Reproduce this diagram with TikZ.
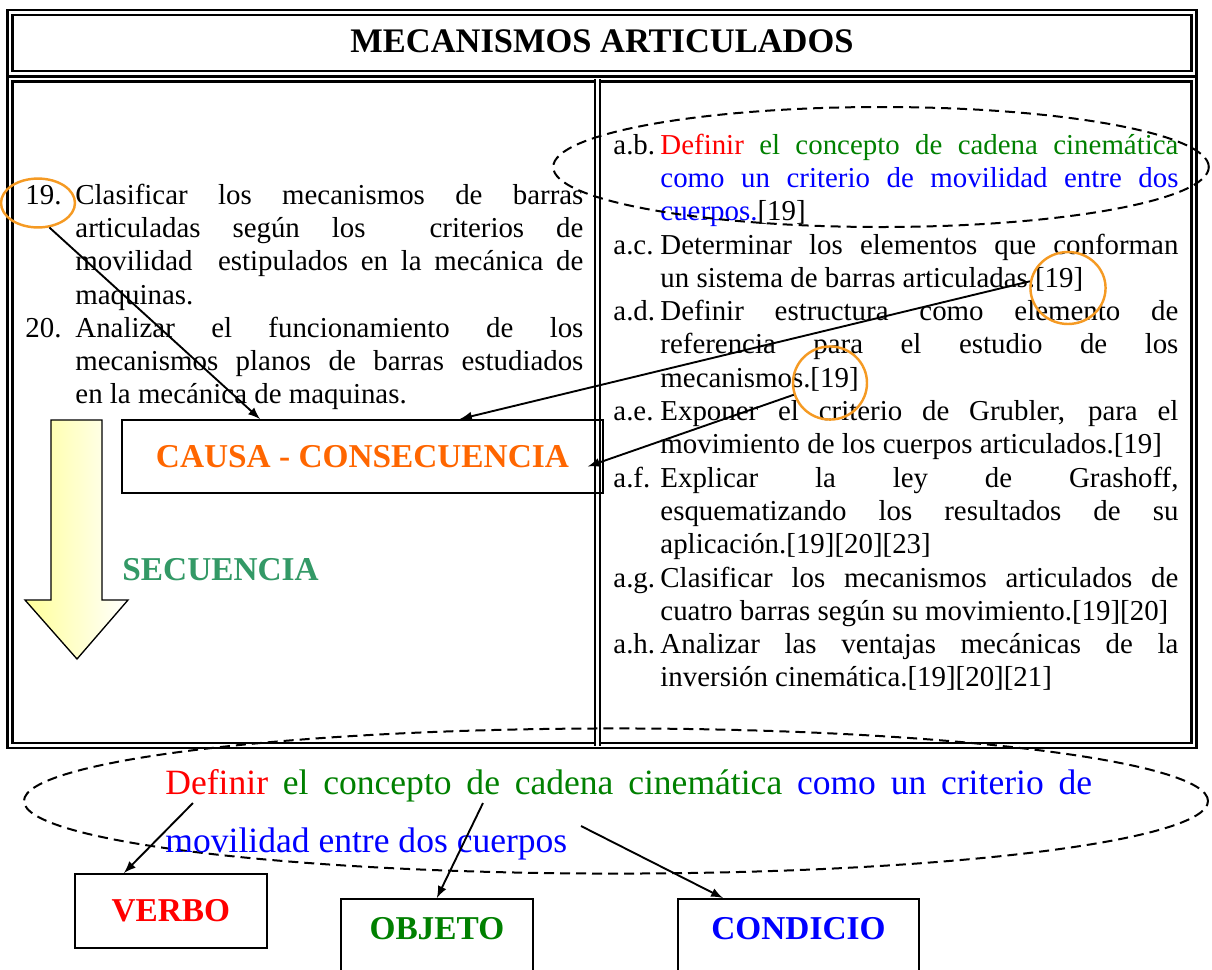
\documentclass[tikz,border=0pt]{standalone}
\usepackage{fontspec}
\setmainfont{Liberation Serif}
\usetikzlibrary{shapes.geometric,calc}

\definecolor{vred}{HTML}{FF0000}
\definecolor{vgreen}{HTML}{008000}
\definecolor{vblue}{HTML}{0000FF}
\definecolor{causaorange}{HTML}{FF6600}
\definecolor{secgreen}{HTML}{339966}
\definecolor{hlorange}{HTML}{F59A23}
\definecolor{arrowyellow}{HTML}{FFFF99}

\tikzset{
  frame/.style={double, line width=1.1pt, double distance=1pt},
  body/.style={font=\fontsize{13}{15}\selectfont},
  lbl/.style={body, anchor=base west, inner sep=0pt},
  txt/.style={body, anchor=base west, inner sep=0pt, align=justify},
  hl/.style={ellipse, draw=hlorange, line width=1.1pt, inner sep=0pt},
  dashring/.style={ellipse, draw, line width=0.9pt, dash pattern=on 4.5pt off 2.7pt, inner sep=0pt},
  wbox/.style={draw, line width=0.8pt, font=\fontsize{15}{18}\selectfont\bfseries},
  bigword/.style={anchor=base west, inner sep=0pt, font=\fontsize{15}{18}\selectfont\bfseries},
  link/.style={->, line width=0.85pt},
}

\begin{document}
\begin{tikzpicture}[x=0.45pt, y=-0.45pt, >=latex]
\clip (0,0) rectangle (1212,969);

% frame
\draw[frame] (10,12.5) rectangle (1194,73.5);
\draw[frame] (10,79) rectangle (1194,745.5);
\draw[frame] (597.5,79) -- (597.5,745.5);
\node[font=\fontsize{15.5}{18}\selectfont\bfseries, anchor=base] (title) at (602,52) {MECANISMOS ARTICULADOS};

% left column
\node[lbl] (n19) at (25,204) {19.};
\node[txt, text width=228.6pt] (t19) at (75,204) {Clasificar los mecanismos de barras\linebreak
  articuladas según los \ criterios de\linebreak
  movilidad \ estipulados en la mecánica de\linebreak
  maquinas.};
\node[lbl] (n20) at (25,337) {20.};
\node[txt, text width=228.6pt] (t20) at (75,337) {Analizar el funcionamiento de los\linebreak
  mecanismos planos de barras estudiados\linebreak
  en la mecánica de maquinas.};

% right column
\node[lbl] (nab) at (613,154) {a.b.};
\node[txt, text width=233.1pt] (tab) at (660,154) {\textcolor{vred}{Definir} \textcolor{vgreen}{el concepto de cadena cinemática}\linebreak
  \textcolor{vblue}{como un criterio de movilidad entre dos}\linebreak
  \textcolor{vblue}{cuerpos.}[19]};
\node[lbl] (nac) at (613,254) {a.c.};
\node[txt, text width=233.1pt] (tac) at (660,254) {Determinar los elementos que conforman\linebreak
  un sistema de barras articuladas.[19]};
\node[lbl] (nad) at (613,320.6) {a.d.};
\node[txt, text width=233.1pt] (tad) at (660,320.6) {Definir estructura como elemento de\linebreak
  referencia para el estudio de los\linebreak
  mecanismos.[19]};
\node[lbl] (nae) at (613,420.5) {a.e.};
\node[txt, text width=233.1pt] (tae) at (660,420.5) {Exponer el criterio de Grubler, para el\linebreak
  movimiento de los cuerpos articulados.[19]};
\node[lbl] (naf) at (613,487) {a.f.};
\node[txt, text width=233.1pt] (taf) at (660,487) {Explicar la ley de Grashoff,\linebreak
  esquematizando los resultados de su\linebreak
  aplicación.[19][20][23]};
\node[lbl] (nag) at (613,587) {a.g.};
\node[txt, text width=233.1pt] (tag) at (660,587) {Clasificar los mecanismos articulados de\linebreak
  cuatro barras según su movimiento.[19][20]};
\node[lbl] (nah) at (613,653.6) {a.h.};
\node[txt, text width=233.1pt] (tah) at (660,653.6) {Analizar las ventajas mecánicas de la\linebreak
  inversión cinemática.[19][20][21]};

% highlights
\node[dashring, minimum width=295pt, minimum height=54pt] (ring) at (881,167) {};
\node[hl, minimum width=33.3pt, minimum height=22pt] (c19) at (38,203) {};
\node[hl, minimum width=33.8pt, minimum height=32.4pt] (c2) at (1068,288) {};
\node[hl, minimum width=33.3pt, minimum height=32.9pt] (c3) at (830,383) {};

% causa - consecuencia
\node[wbox, text=causaorange, anchor=north west, minimum width=216.5pt, minimum height=32.9pt] (causa) at (121,419) {CAUSA - CONSECUENCIA};
\draw[link] (c19.-65) -- ($(causa.north west)+(139,0)$);
\draw[link] (c2.170) -- ($(causa.north west)+(339,0)$);
\draw[link] (c3.198) -- ($(causa.east)+(-16,10)$);

% secuencia
\shadedraw[left color=arrowyellow, right color=white, line width=0.6pt] (51,420) -- (102,420) -- (102,600) -- (128,600) -- (77,659) -- (25,600) -- (51,600) -- cycle;
\node[bigword, text=secgreen] (secu) at (122,580) {SECUENCIA};

% frase
\node[dashring, minimum width=532.8pt, minimum height=65.3pt] (ringb) at (616,801) {};
\node[font=\fontsize{16}{26.5}\selectfont, anchor=base west, inner sep=0pt, align=justify, text width=417pt] (frase) at (165,794) {\textcolor{vred}{Definir} \textcolor{vgreen}{el concepto de cadena cinemática} \textcolor{vblue}{como un criterio de\linebreak movilidad entre dos cuerpos}};
\coordinate (pv) at (193,803);
\coordinate (po) at (483,803);
\coordinate (pc) at (581,826);

\node[wbox, text=vred, anchor=north west, minimum width=86.4pt, minimum height=33.3pt] (verbo) at (74,873) {VERBO};
\node[wbox, text=vgreen, anchor=north west, minimum width=86.4pt, inner ysep=8.5pt, text depth=30pt] (objeto) at (340,898) {OBJETO};
\node[wbox, text=vblue, anchor=north west, minimum width=108.5pt, inner ysep=8.5pt, text depth=30pt] (condic) at (677,898) {CONDICIO};

\draw[link] (pv) -- ($(verbo.north west)+(50,0)$);
\draw[link] (po) -- (objeto.north);
\draw[link] (pc) -- ($(condic.north west)+(46,0)$);
\end{tikzpicture}
\end{document}
